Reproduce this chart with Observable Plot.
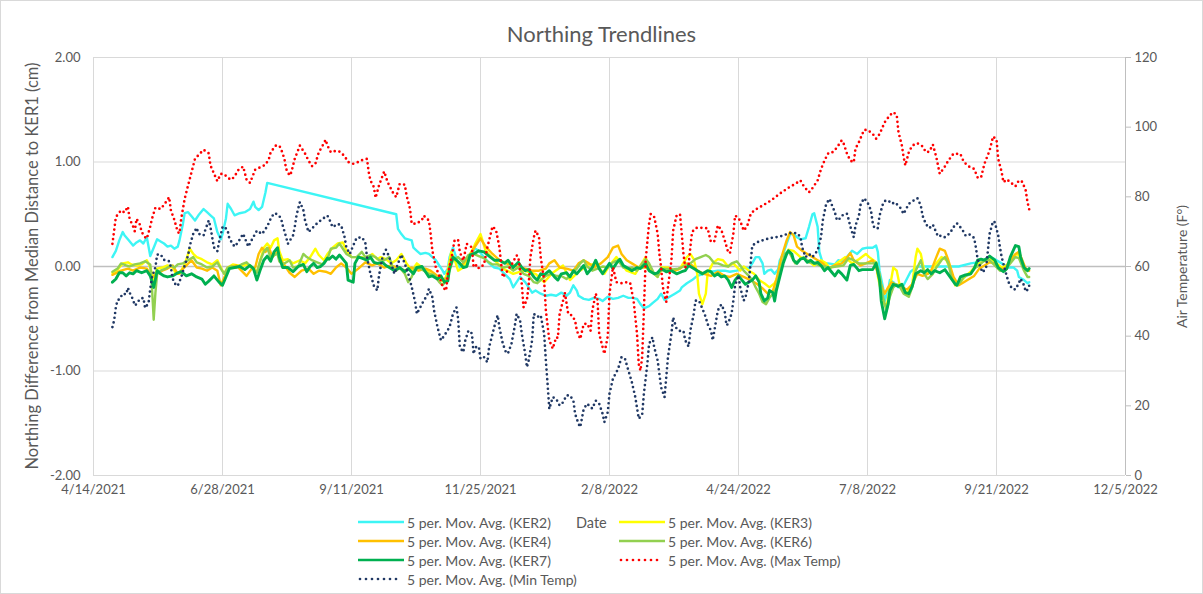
<!DOCTYPE html>
<html>
<head>
<meta charset="utf-8">
<script src="https://cdn.jsdelivr.net/npm/d3@7"></script>
<script src="https://cdn.jsdelivr.net/npm/@observablehq/plot@0.6"></script>
<style>
  html, body { margin:0; padding:0; background:#fff; }
  #chart { position:relative; width:1203px; height:594px; font-family: Lato, "Open Sans", sans-serif; color:#595959; overflow:hidden; }
  #frame { position:absolute; left:0; top:0; width:1201px; height:592px; border:1px solid #d9d9d9; pointer-events:none; }
  #title { position:absolute; top:20px; left:0; width:1203px; text-align:center; font-size:22px; }
  #plot { position:absolute; left:0; top:0; }
  .ytitle { position:absolute; white-space:nowrap; transform-origin: center center; }
  #legend { position:absolute; left:0; top:0; width:1203px; height:594px; pointer-events:none; font-size:14px; }
  .lg { position:absolute; display:flex; align-items:center; white-space:nowrap; height:16px; }
  .lg svg { margin-right:3px; }
</style>
</head>
<body>
<div id="chart">
  <div id="plot"></div>
  <div id="title">Northing Trendlines</div>
  <div class="ytitle" id="yl">Northing Difference from Median Distance to KER1 (cm)</div>
  <div class="ytitle" id="yr">Air Temperature (F°)</div>
  <div id="legend"></div>
  <div id="frame"></div>
</div>
<script>
// ---------- data (day = days since 4/14/2021) ----------
const xTickLabels = ["4/14/2021","6/28/2021","9/11/2021","11/25/2021","2/8/2022","4/24/2022","7/8/2022","9/21/2022","12/5/2022"];
const yTicksLeft = [-2, -1, 0, 1, 2];
const tempTicks = [0, 20, 40, 60, 80, 100, 120];

const KER2 = [[11,0.09],[13,0.15],[15,0.25],[17,0.33],[18,0.30],[20,0.26],[23,0.20],[25,0.23],[27,0.25],[29,0.22],[31,0.28],[33,0.10],[35,0.18],[37,0.26],[39,0.24],[41,0.22],[43,0.19],[45,0.20],[47,0.17],[49,0.19],[50,0.25],[52,0.41],[53,0.51],[55,0.52],[57,0.48],[59,0.44],[61,0.49],[64,0.55],[66,0.52],[68,0.49],[70,0.46],[72,0.33],[74,0.26],[75,0.31],[77,0.46],[78,0.60],[80,0.55],[82,0.49],[85,0.51],[88,0.52],[91,0.55],[93,0.62],[94,0.57],[96,0.54],[98,0.57],[100,0.71],[101,0.80],[176,0.50],[177,0.36],[179,0.31],[181,0.27],[185,0.25],[186,0.18],[188,0.15],[190,0.12],[193,0.13],[195,0.12],[197,0.09],[199,0.06],[201,0.01],[203,-0.04],[204,-0.07],[206,-0.02],[207,0.09],[209,0.18],[211,0.08],[213,-0.01],[216,0.03],[219,0.12],[222,0.17],[224,0.15],[227,0.09],[230,0.03],[233,-0.01],[236,-0.02],[239,-0.07],[242,-0.12],[244,-0.20],[246,-0.15],[248,-0.10],[251,-0.15],[253,-0.20],[255,-0.25],[257,-0.23],[260,-0.26],[263,-0.28],[266,-0.27],[269,-0.28],[272,-0.25],[275,-0.28],[277,-0.25],[279,-0.18],[281,-0.23],[282,-0.28],[285,-0.31],[288,-0.32],[291,-0.30],[294,-0.31],[296,-0.33],[299,-0.29],[302,-0.31],[305,-0.30],[308,-0.28],[311,-0.30],[313,-0.30],[316,-0.31],[318,-0.36],[320,-0.40],[323,-0.38],[325,-0.35],[328,-0.31],[330,-0.26],[332,-0.32],[335,-0.29],[338,-0.26],[341,-0.23],[342,-0.20],[345,-0.16],[348,-0.13],[351,-0.09],[355,-0.07],[359,-0.05],[363,-0.04],[367,-0.04],[370,-0.05],[374,-0.04],[378,-0.01],[381,-0.02],[383,0.03],[385,0.09],[387,0.09],[389,0.03],[390,-0.07],[392,-0.04],[394,-0.03],[396,-0.07],[398,-0.03],[399,0.06],[401,0.12],[403,0.22],[405,0.31],[407,0.31],[409,0.28],[411,0.26],[414,0.27],[416,0.38],[418,0.50],[419,0.51],[421,0.38],[422,0.14],[424,0.03],[427,0.03],[431,0.02],[433,0.06],[435,0.05],[438,0.09],[441,0.15],[444,0.12],[447,0.17],[450,0.18],[453,0.18],[455,0.20],[456,0.14],[457,-0.04],[459,-0.20],[460,-0.33],[462,-0.23],[463,-0.13],[465,-0.15],[468,-0.20],[471,-0.18],[475,-0.05],[479,0.0],[486,0.0],[494,0.0],[503,0.0],[510,0.03],[514,0.04],[518,0.06],[521,0.09],[524,0.07],[528,0.03],[532,-0.01],[535,-0.01],[537,-0.04],[538,-0.10],[541,-0.13],[543,-0.16],[544,-0.15]];

const KER3 = [[11,-0.06],[14,-0.03],[17,0.03],[20,0.04],[22,0.02],[25,0.01],[28,0.02],[31,0.06],[33,-0.01],[35,-0.13],[37,-0.02],[40,-0.01],[43,0.01],[46,-0.01],[48,-0.07],[50,-0.07],[53,0.02],[56,0.17],[58,0.12],[60,0.09],[63,0.07],[66,0.04],[69,0.02],[72,0.06],[74,-0.01],[76,-0.07],[78,-0.01],[81,0.02],[84,0.01],[87,0.01],[90,0.02],[93,-0.02],[95,-0.05],[97,0.06],[99,0.18],[101,0.22],[103,0.18],[105,0.25],[107,0.27],[108,0.15],[110,0.06],[113,0.07],[116,0.03],[120,0.06],[123,0.03],[126,0.09],[129,0.17],[131,0.11],[134,0.06],[136,0.12],[139,0.18],[142,0.22],[145,0.23],[147,0.15],[150,0.09],[153,0.09],[156,0.09],[159,0.06],[162,0.12],[165,0.07],[167,0.09],[170,0.07],[173,0.03],[176,0.06],[179,0.12],[182,0.03],[185,-0.04],[188,0.03],[191,-0.01],[194,-0.04],[196,-0.07],[199,-0.10],[202,-0.13],[204,-0.15],[206,-0.04],[208,0.14],[210,0.06],[212,-0.04],[215,-0.01],[218,0.09],[221,0.18],[222,0.22],[225,0.31],[228,0.15],[232,0.08],[238,-0.02],[244,-0.07],[250,-0.04],[257,-0.07],[262,-0.15],[267,-0.06],[273,0.01],[277,-0.13],[282,-0.05],[288,0.02],[292,0.02],[297,-0.07],[300,0.01],[304,0.09],[310,-0.04],[315,-0.07],[321,0.09],[324,-0.04],[328,-0.10],[330,-0.01],[334,-0.01],[338,-0.04],[341,-0.02],[345,0.09],[347,0.12],[349,0.07],[351,-0.07],[352,-0.26],[354,-0.36],[356,-0.26],[357,-0.07],[360,0.03],[363,0.07],[366,0.06],[369,0.00],[372,0.03],[376,-0.04],[378,0.00],[381,-0.04],[384,-0.07],[387,-0.13],[390,-0.16],[393,-0.20],[396,-0.16],[398,-0.09],[401,0.06],[404,0.16],[407,0.15],[411,0.09],[415,0.06],[419,0.01],[423,0.06],[426,0.03],[428,-0.02],[432,0.03],[437,0.09],[441,0.03],[445,0.07],[449,0.12],[451,0.09],[455,0.04],[456,-0.09],[459,-0.33],[461,-0.40],[463,-0.20],[465,-0.01],[467,-0.04],[469,-0.20],[471,-0.22],[473,-0.26],[476,-0.17],[478,0.09],[479,0.17],[481,0.12],[483,-0.04],[485,-0.07],[487,-0.04],[490,0.03],[493,0.09],[496,0.06],[499,-0.07],[501,-0.18],[504,-0.15],[507,-0.09],[510,-0.05],[512,-0.01],[515,0.03],[519,0.06],[522,0.07],[525,0.03],[528,-0.01],[531,0.01],[534,0.09],[537,0.12],[539,0.09],[541,-0.02],[543,-0.04]];

const KER4 = [[11,-0.08],[16,-0.04],[20,-0.02],[23,-0.04],[27,-0.01],[31,-0.02],[34,-0.10],[37,-0.07],[40,-0.04],[43,-0.02],[46,0.01],[49,-0.07],[51,-0.04],[54,0.01],[57,0.06],[60,-0.01],[63,-0.02],[66,-0.04],[69,-0.01],[72,-0.04],[74,-0.18],[77,-0.07],[79,-0.01],[83,0.01],[86,-0.04],[89,-0.09],[92,-0.02],[94,-0.01],[96,0.12],[98,0.18],[100,0.14],[102,0.18],[104,0.09],[107,0.14],[109,0.06],[112,-0.01],[114,-0.06],[117,-0.10],[121,-0.04],[125,-0.02],[128,-0.07],[131,-0.04],[135,-0.05],[138,-0.07],[141,-0.01],[144,0.03],[147,-0.01],[150,-0.07],[154,-0.02],[158,0.04],[162,0.01],[165,0.03],[169,-0.01],[173,0.01],[177,-0.01],[181,-0.04],[185,-0.01],[189,-0.04],[193,-0.02],[196,-0.04],[200,-0.09],[203,-0.13],[206,-0.10],[208,0.09],[211,0.06],[214,0.01],[218,0.09],[221,0.17],[223,0.22],[225,0.27],[228,0.19],[232,0.12],[236,0.06],[240,0.03],[244,0.01],[248,-0.01],[251,-0.02],[255,-0.04],[259,-0.04],[263,-0.02],[265,0.03],[268,0.06],[271,-0.01],[275,-0.02],[279,-0.04],[282,0.03],[285,0.06],[288,0.03],[291,-0.01],[295,0.03],[299,0.09],[302,0.18],[305,0.20],[307,0.12],[310,0.06],[313,0.03],[317,-0.01],[321,-0.01],[324,-0.04],[328,-0.09],[330,-0.04],[334,-0.02],[338,-0.04],[341,-0.02],[345,0.03],[348,0.01],[351,-0.04],[355,-0.07],[359,-0.09],[363,-0.05],[367,-0.09],[370,-0.10],[374,-0.07],[378,-0.10],[382,-0.13],[386,-0.17],[389,-0.21],[392,-0.26],[395,-0.23],[397,-0.13],[400,0.09],[403,0.25],[405,0.33],[407,0.30],[409,0.19],[412,0.15],[415,0.12],[418,0.09],[421,0.06],[424,0.03],[427,-0.02],[431,0.01],[435,0.03],[437,0.06],[440,0.13],[442,0.06],[446,0.01],[449,0.03],[453,0.06],[455,-0.01],[458,-0.18],[460,-0.26],[462,-0.20],[464,-0.15],[467,-0.18],[470,-0.20],[473,-0.22],[476,-0.17],[479,-0.07],[482,-0.09],[485,-0.07],[487,-0.04],[490,0.09],[492,0.17],[495,0.15],[497,0.06],[500,-0.10],[503,-0.18],[506,-0.15],[510,-0.11],[512,-0.09],[515,-0.02],[518,0.01],[521,0.04],[524,0.03],[527,-0.02],[530,-0.02],[533,0.06],[536,0.12],[538,0.14],[540,0.06],[542,-0.02],[544,-0.04]];

const KER6 = [[11,-0.05],[14,-0.02],[16,0.03],[19,0.01],[21,0.00],[24,0.02],[27,0.03],[30,0.05],[33,0.02],[34,-0.20],[35,-0.51],[36,-0.25],[37,-0.07],[39,-0.04],[42,-0.02],[45,0.01],[47,-0.01],[49,0.02],[52,0.03],[55,0.06],[58,0.09],[60,0.04],[63,0.02],[66,-0.01],[69,0.00],[72,0.04],[74,-0.02],[76,-0.07],[78,-0.01],[80,0.00],[83,-0.01],[86,0.02],[89,0.04],[92,-0.01],[95,-0.06],[97,0.06],[99,0.14],[101,0.18],[103,0.08],[105,0.11],[107,0.12],[108,0.05],[110,0.02],[114,0.06],[116,-0.01],[119,0.00],[122,0.12],[124,0.09],[127,0.06],[130,0.04],[133,0.02],[136,0.07],[138,0.17],[141,0.18],[143,0.22],[145,0.17],[147,0.12],[150,0.09],[153,0.09],[156,0.14],[158,0.09],[161,0.11],[164,0.09],[166,0.06],[169,0.06],[172,0.09],[174,-0.01],[176,-0.04],[178,-0.01],[181,-0.07],[183,-0.15],[185,-0.10],[187,-0.01],[190,-0.02],[193,-0.05],[195,-0.07],[198,-0.08],[201,-0.15],[203,-0.18],[205,-0.13],[207,-0.04],[209,0.06],[212,0.09],[215,0.04],[218,0.11],[221,0.12],[224,0.10],[227,0.08],[229,0.05],[232,0.02],[235,0.02],[238,-0.01],[241,0.00],[244,-0.04],[247,-0.01],[250,-0.07],[253,-0.09],[256,-0.15],[258,-0.16],[260,-0.13],[263,-0.09],[266,-0.07],[269,-0.09],[272,-0.09],[275,-0.12],[278,-0.07],[281,-0.02],[283,0.03],[285,0.06],[287,0.00],[290,-0.04],[293,-0.02],[296,0.00],[299,-0.01],[302,0.04],[305,0.06],[308,-0.01],[311,-0.02],[313,-0.01],[316,-0.04],[319,0.03],[321,0.07],[323,0.03],[326,-0.07],[328,-0.10],[329,-0.05],[332,-0.02],[336,-0.03],[340,-0.02],[343,0.00],[347,0.03],[350,0.07],[353,0.09],[356,0.11],[358,0.09],[361,0.03],[363,0.03],[366,0.01],[369,0.00],[371,0.03],[374,0.05],[376,0.01],[378,-0.04],[381,-0.09],[383,-0.13],[385,-0.20],[387,-0.26],[389,-0.34],[391,-0.36],[393,-0.30],[395,-0.26],[397,-0.21],[398,-0.12],[400,0.00],[402,0.12],[404,0.15],[406,0.09],[408,0.03],[410,0.06],[413,0.09],[416,0.04],[419,0.03],[422,0.01],[425,0.00],[428,-0.01],[432,0.00],[436,0.01],[439,0.08],[442,0.06],[445,0.03],[449,0.03],[453,0.03],[455,0.04],[457,-0.07],[459,-0.29],[461,-0.42],[463,-0.29],[465,-0.20],[467,-0.17],[469,-0.20],[471,-0.26],[474,-0.29],[476,-0.20],[478,-0.04],[481,0.06],[483,-0.07],[485,-0.12],[488,-0.07],[490,-0.01],[493,0.06],[495,0.09],[497,0.03],[499,-0.12],[502,-0.18],[504,-0.15],[506,-0.10],[510,-0.07],[512,-0.02],[515,0.01],[518,0.06],[521,0.06],[524,0.01],[527,-0.04],[530,-0.04],[533,0.03],[536,0.09],[538,0.08],[541,-0.04],[543,-0.10],[544,-0.10]];

const KER7 = [[11,-0.15],[13,-0.12],[15,-0.06],[17,-0.06],[19,-0.09],[21,-0.06],[23,-0.07],[25,-0.04],[28,-0.06],[31,-0.04],[33,-0.09],[35,-0.20],[37,-0.04],[39,-0.07],[41,-0.09],[43,-0.10],[46,-0.09],[49,-0.06],[51,-0.05],[54,-0.09],[57,-0.07],[60,-0.10],[63,-0.12],[65,-0.17],[67,-0.14],[70,-0.09],[73,-0.15],[75,-0.18],[77,-0.10],[79,-0.02],[82,-0.01],[85,0.00],[88,-0.03],[91,0.01],[93,-0.02],[95,-0.13],[97,-0.03],[99,0.06],[101,0.10],[103,0.05],[105,0.14],[107,0.18],[108,0.09],[110,-0.01],[113,-0.01],[116,-0.05],[119,0.00],[122,0.02],[124,-0.05],[126,0.00],[128,0.03],[130,-0.01],[132,0.00],[134,0.03],[136,0.08],[137,0.07],[139,0.10],[141,0.07],[143,0.11],[145,0.07],[147,0.03],[148,-0.13],[151,-0.15],[152,0.03],[154,0.09],[156,0.08],[159,0.06],[161,0.09],[163,0.04],[165,0.03],[168,0.04],[170,0.01],[173,-0.02],[175,-0.04],[178,-0.01],[181,-0.05],[183,-0.02],[186,-0.07],[188,-0.01],[191,0.00],[193,-0.05],[195,-0.10],[197,-0.09],[200,-0.12],[202,-0.09],[204,-0.15],[206,-0.14],[207,-0.02],[209,0.09],[211,0.06],[213,0.03],[215,-0.01],[217,0.00],[219,0.11],[222,0.13],[224,0.15],[227,0.14],[230,0.10],[233,0.06],[236,0.06],[239,0.03],[241,0.06],[244,-0.01],[247,0.04],[249,-0.01],[251,-0.04],[253,-0.03],[256,-0.10],[258,-0.13],[260,-0.07],[262,-0.08],[265,-0.04],[268,-0.10],[270,-0.13],[272,-0.07],[275,-0.06],[277,-0.10],[279,-0.04],[281,-0.07],[283,-0.03],[285,0.01],[287,-0.07],[290,-0.01],[292,0.06],[294,-0.02],[296,-0.07],[298,-0.02],[300,0.03],[302,-0.02],[304,0.03],[306,0.07],[308,0.01],[311,-0.02],[313,-0.04],[316,-0.01],[318,-0.02],[321,0.03],[323,-0.04],[326,-0.07],[328,-0.06],[330,-0.02],[333,-0.05],[336,-0.04],[339,-0.07],[342,-0.05],[344,-0.04],[346,0.01],[349,-0.02],[351,-0.04],[354,-0.07],[357,-0.04],[359,-0.05],[361,-0.09],[363,-0.07],[365,-0.10],[367,-0.09],[369,-0.13],[371,-0.20],[373,-0.13],[375,-0.09],[377,-0.13],[379,-0.17],[381,-0.15],[383,-0.13],[385,-0.09],[387,-0.15],[388,-0.26],[390,-0.33],[392,-0.30],[393,-0.23],[395,-0.25],[396,-0.33],[397,-0.23],[399,-0.10],[401,0.03],[403,0.12],[404,0.15],[406,0.12],[407,0.06],[409,0.03],[411,0.07],[413,0.08],[415,0.04],[417,0.06],[419,0.03],[421,0.04],[423,0.01],[425,-0.04],[427,-0.01],[429,-0.05],[431,-0.09],[433,-0.04],[435,-0.07],[438,-0.13],[440,0.01],[442,0.02],[445,-0.04],[447,-0.03],[450,-0.03],[453,-0.03],[455,0.03],[457,-0.13],[458,-0.33],[460,-0.50],[462,-0.36],[463,-0.23],[465,-0.17],[468,-0.19],[470,-0.17],[472,-0.25],[474,-0.26],[476,-0.19],[478,-0.07],[481,-0.04],[483,-0.06],[485,-0.03],[487,-0.07],[489,-0.04],[492,-0.06],[495,-0.03],[498,-0.10],[501,-0.17],[502,-0.18],[504,-0.10],[507,-0.08],[510,-0.07],[512,-0.02],[514,0.06],[516,0.07],[518,0.06],[521,0.10],[524,0.06],[526,-0.01],[529,-0.05],[531,-0.02],[533,0.09],[536,0.20],[538,0.19],[539,0.09],[541,-0.01],[543,-0.04],[544,-0.02]];

// temperatures in °F
const MAX_TEMP = [[11,66.5],[12,70.3],[13,74.2],[16,76.1],[18,75.5],[20,77.2],[21,73.7],[23,71.5],[24,70.1],[25,73.7],[27,72],[28,69.9],[30,68.4],[31,68],[33,71.5],[34,73.7],[36,76.9],[39,76.5],[41,77.7],[44,79.9],[45,76.1],[47,73.4],[49,69.9],[50,69.5],[51,73.7],[53,79.4],[55,83.3],[57,87.1],[59,90.9],[62,92.5],[64,93.5],[67,92.5],[68,89],[71,85.6],[72,84.5],[74,86.6],[76,86.5],[78,85.5],[80,84.9],[82,85.8],[84,87.6],[87,88.7],[89,84.9],[91,84],[94,87.8],[97,88.5],[100,89.2],[102,90.9],[103,92.8],[106,94.7],[108,94.7],[109,93.8],[111,90.9],[112,88],[114,86.1],[115,87],[117,90.9],[120,94.7],[123,92.4],[125,90.4],[127,88.8],[129,89.5],[131,92.8],[133,94.5],[135,96.4],[136,94.7],[138,92.8],[141,93.2],[143,93],[146,91.7],[148,90],[151,89.5],[154,90],[156,90.5],[159,90.9],[160,87.1],[161,84.7],[163,82.8],[164,79.7],[166,83.3],[169,87.3],[171,84.2],[174,81.3],[176,79.9],[178,83.7],[181,83.5],[182,80.4],[184,76.6],[185,72.3],[188,72.3],[191,73.4],[192,74.6],[195,73.2],[196,69.4],[197,64.6],[199,59.8],[201,57.4],[203,54.1],[205,53.1],[206,57.9],[208,62.2],[210,67.7],[212,67.5],[213,64.1],[215,61.7],[217,66.5],[220,65.5],[221,59.8],[223,60.5],[224,59.5],[227,60.5],[229,65.5],[232,71.5],[234,70.5],[236,65.5],[237,60.8],[238,56.9],[241,59],[243,60.5],[246,63.2],[247,62.7],[249,55],[250,48.3],[252,50.5],[253,54.5],[254,62.7],[256,68.4],[257,70.3],[259,68.5],[260,62.7],[262,56],[263,47.4],[265,38.8],[267,36.4],[269,39.7],[270,39.5],[271,46.4],[273,50.2],[274,52.6],[276,46.4],[278,46],[280,44.5],[281,41.6],[283,39.2],[285,43.5],[287,43.6],[289,41.6],[290,47.4],[292,52.2],[293,50.5],[294,40.7],[296,36.8],[297,34.9],[299,40],[300,52.2],[302,59.8],[304,55.5],[307,55.2],[310,55.5],[312,55.3],[314,50.2],[316,40.7],[317,32],[318,30.1],[319,34],[320,47.4],[321,61.7],[323,72.3],[324,75.1],[326,74.2],[328,69.4],[329,63.6],[330,59.8],[331,54.1],[333,49.8],[334,54.1],[336,61.7],[337,70.3],[339,74.6],[341,75],[342,69.4],[343,63.6],[344,59.8],[346,60.5],[347,65.5],[348,69.9],[350,71],[352,71.2],[355,71],[357,71],[359,67],[361,67.3],[363,71.8],[365,70.5],[367,67.5],[369,64.1],[370,63.8],[372,69.4],[373,74.6],[375,74],[377,71.8],[378,70.3],[380,71.5],[382,74.9],[384,76.1],[388,77.2],[394,79],[399,80.9],[404,82.6],[408,83.7],[411,84.7],[413,83],[416,81.3],[418,82.5],[421,84.7],[423,88],[425,90.4],[427,92.4],[429,92.5],[432,94],[435,96.2],[436,95.5],[438,92.5],[440,90.4],[442,89.9],[443,93.8],[445,95.7],[448,99.2],[450,99.2],[453,98.1],[455,96.7],[457,98],[460,101.4],[463,103.4],[465,104.3],[467,103.5],[468,98.6],[470,94.7],[471,91.4],[472,89],[474,92.8],[476,94.7],[479,95.4],[482,94.5],[484,92.8],[486,93],[488,95],[490,91.4],[492,86.6],[495,88.7],[497,90.4],[500,92.4],[504,92.3],[506,90],[509,88.7],[512,88],[514,85.6],[516,85.5],[518,89.5],[521,93.3],[523,97.3],[525,96.5],[526,90.9],[528,87.1],[529,84.2],[531,85],[533,84.2],[536,83],[538,84.7],[540,84.3],[542,81.8],[543,78.5],[544,76.4]];

const MIN_TEMP = [[11,42.6],[12,44.5],[13,48.3],[14,50.4],[15,50.5],[17,52.2],[19,52],[20,53.9],[21,52.5],[23,50.5],[24,48.8],[25,49.2],[27,50.7],[29,51],[30,48.1],[32,49.5],[33,53.6],[34,56.9],[36,59.8],[37,63.4],[39,63.5],[41,61.9],[44,61.5],[45,59.8],[46,56.5],[48,54.5],[49,54.5],[51,56.9],[53,60.3],[55,63.2],[56,66],[58,69.4],[60,71.1],[61,69.4],[64,68.9],[65,70.5],[67,73.2],[68,71.3],[70,65.5],[72,64.4],[73,67],[75,71.3],[76,71.5],[78,70.3],[79,68],[82,65.7],[84,66.9],[87,69.4],[90,65.7],[92,67.6],[95,70.3],[98,69.3],[101,71.5],[103,73.7],[105,75.3],[107,75],[109,73.9],[110,71.8],[112,68.4],[113,66.5],[116,68.9],[117,71.3],[118,74.6],[119,76.6],[120,78.5],[122,76.2],[123,73.2],[125,69.9],[127,70.9],[130,72.4],[133,73.6],[136,74.6],[137,73.7],[139,71.3],[142,72.2],[144,71.8],[146,68.4],[147,65.5],[149,63.6],[151,66],[153,68.2],[156,68.4],[158,67],[159,62.7],[161,57.9],[163,54.5],[165,53.1],[166,57.4],[168,62.7],[170,64.8],[172,62.7],[173,60.8],[175,57.9],[177,60.8],[179,63.4],[181,60.8],[183,57.9],[185,54.1],[187,49.8],[188,46.4],[190,48.3],[192,50.2],[194,51.7],[195,53.6],[197,51.2],[198,47.4],[200,42.6],[202,38.8],[204,40.2],[207,42.6],[209,46.4],[211,48.3],[212,45],[213,36.8],[215,35.4],[216,38.5],[218,41.6],[220,40.8],[221,34.9],[222,36.8],[224,37],[225,33.5],[227,34],[229,32.5],[230,36.8],[232,40.7],[234,44.5],[235,46],[236,42.5],[238,37.8],[240,35.1],[241,35.1],[243,37.8],[245,43.1],[246,46.4],[248,44.5],[249,40.7],[251,34.9],[252,31.1],[253,33],[255,38.8],[256,46.4],[258,45.5],[260,46],[262,40.7],[263,33],[264,26.3],[265,19.1],[267,22.5],[269,22],[271,20.1],[273,21],[275,23],[277,23],[279,21.5],[280,17.7],[282,14.8],[283,13.9],[285,19.1],[287,20.6],[290,19.2],[292,21.5],[294,20.6],[296,17.7],[297,15.3],[299,18.2],[300,23.5],[302,27.8],[305,30.6],[307,34],[309,33.5],[311,30.1],[313,26.8],[315,22.5],[317,16.3],[319,17.5],[320,23.5],[322,32],[323,37.8],[325,39.7],[326,36.8],[328,33],[329,29.2],[330,25.3],[332,22.5],[333,28.2],[334,34],[336,40.7],[337,45.4],[339,42.1],[341,41.5],[343,41.5],[344,38.8],[346,37],[347,41.6],[349,46.4],[350,50.2],[352,50.2],[354,47.9],[356,45.4],[357,43.5],[359,41.6],[360,38.8],[362,44.5],[363,47.4],[365,49.1],[367,47],[368,43.1],[369,43.6],[371,46.5],[372,50.2],[373,54.5],[375,57.4],[376,54],[378,50.2],[379,51],[381,55.6],[382,60.8],[383,66],[386,67],[390,67.7],[394,68.2],[399,68.6],[405,69.6],[409,69.6],[411,68.5],[412,65.5],[414,62.7],[416,63.6],[418,62.7],[421,64.6],[423,68.5],[424,73.2],[426,78],[428,79.4],[429,78],[431,75.6],[432,73.7],[433,73.2],[435,74.6],[438,75.2],[439,73.6],[440,71.5],[441,69.9],[442,68.4],[443,71.7],[445,74.6],[446,77.8],[448,79.6],[450,78.4],[452,76.1],[453,72.7],[454,71],[456,71],[457,74.6],[459,78],[460,78.8],[462,79],[464,78],[466,78.4],[469,76.9],[471,75.1],[474,78],[477,79],[479,79.6],[481,77.5],[482,74.6],[484,72.1],[486,71],[488,72],[491,68.6],[493,68.9],[495,68.4],[498,69.6],[500,71.3],[502,72.4],[505,70.7],[507,68.9],[509,69.3],[512,68.2],[513,65.5],[514,62.2],[516,59.3],[517,58.3],[519,59.8],[520,64.6],[521,69.4],[523,73],[524,72.7],[526,68.9],[527,65.5],[528,62.7],[530,58.9],[532,55.5],[534,53.6],[536,53.4],[538,55.2],[539,56.5],[541,54.6],[542,52.8],[543,53.3],[544,54.5]];

// ---------- build ----------
const parseTick = d3.utcParse("%m/%d/%Y");
const xTicks = xTickLabels.map(s => parseTick(s));
const start = xTicks[0];
const toDate = d => d3.utcDay.offset(start, d);
const fmtTick = d3.utcFormat("%-m/%-d/%Y");
const tempToY = t => (t - 60) / 30;   // map right axis (0..120 °F) onto left axis (-2..2)

const cm = (arr) => arr.slice().sort((a,b)=>a[0]-b[0]).map(([d,v]) => ({date: toDate(d), v}));
const tp = (arr) => arr.slice().sort((a,b)=>a[0]-b[0]).map(([d,t]) => ({date: toDate(d), v: tempToY(t)}));

const series = [
  {name:"5 per. Mov. Avg. (KER2)", data: cm(KER2), color:"#3DF5F5", width:2.4, dotted:false},
  {name:"5 per. Mov. Avg. (KER3)", data: cm(KER3), color:"#FFFF00", width:2.4, dotted:false},
  {name:"5 per. Mov. Avg. (KER4)", data: cm(KER4), color:"#FFC000", width:2.4, dotted:false},
  {name:"5 per. Mov. Avg. (KER6)", data: cm(KER6), color:"#92D050", width:2.4, dotted:false},
  {name:"5 per. Mov. Avg. (KER7)", data: cm(KER7), color:"#00B050", width:2.9, dotted:false},
  {name:"5 per. Mov. Avg. (Max Temp)", data: tp(MAX_TEMP), color:"#FF0000", width:2.7, dotted:true},
  {name:"5 per. Mov. Avg. (Min Temp)", data: tp(MIN_TEMP), color:"#203864", width:2.7, dotted:true}
];

const lineMarks = series.map(s => Plot.line(s.data, {
  x: "date", y: "v", stroke: s.color, strokeWidth: s.width,
  strokeLinecap: "round", strokeLinejoin: "round",
  strokeDasharray: s.dotted ? "0 4.8" : null
}));

const chart = Plot.plot({
  width: 1203, height: 500,
  marginLeft: 93, marginRight: 78, marginTop: 57, marginBottom: 25,
  x: {type: "utc", domain: [xTicks[0], xTicks[xTicks.length-1]]},
  y: {domain: [-2, 2]},
  style: {fontFamily: "Lato, 'Open Sans', sans-serif", fontSize: "13px", color: "#595959", background: "transparent", overflow: "visible"},
  marks: [
    Plot.gridX(xTicks, {stroke: "#d9d9d9", strokeOpacity: 1, strokeWidth: 1}),
    Plot.gridY(yTicksLeft, {stroke: "#d9d9d9", strokeOpacity: 1, strokeWidth: 1}),
    Plot.ruleY([0], {stroke: "#bfbfbf", strokeWidth: 1.3}),
    Plot.ruleX([xTicks[xTicks.length-1]], {stroke: "#bfbfbf", strokeWidth: 1}),
    Plot.axisX(xTicks, {tickSize: 0, tickPadding: 9, tickFormat: fmtTick, label: null, fill: "#595959"}),
    Plot.axisY(yTicksLeft, {anchor: "left", tickSize: 0, tickPadding: 13, tickFormat: v => v.toFixed(2), label: null, fill: "#595959"}),
    Plot.axisY(tempTicks.map(tempToY), {anchor: "right", tickSize: 5, tickPadding: 4, stroke: "#bfbfbf",
      tickFormat: v => String(Math.round(v * 30 + 60)), label: null, fill: "#595959"}),
    ...lineMarks
  ]
});
document.getElementById("plot").appendChild(chart);

// axis titles
function placeRot(id, cx, cy, size) {
  const el = document.getElementById(id);
  el.style.fontSize = size + "px";
  const w = el.offsetWidth, h = el.offsetHeight;
  el.style.left = (cx - w/2) + "px";
  el.style.top = (cy - h/2) + "px";
  el.style.transform = "rotate(-90deg)";
}
placeRot("yl", 31, 266, 16.5);
placeRot("yr", 1181, 266, 14);

// legend
const legend = document.getElementById("legend");
function sample(s) {
  const ns = "http://www.w3.org/2000/svg";
  const svg = document.createElementNS(ns, "svg");
  svg.setAttribute("width", 46); svg.setAttribute("height", 10);
  const l = document.createElementNS(ns, "line");
  l.setAttribute("x1", s.dotted ? 2 : 0); l.setAttribute("x2", s.dotted ? 44 : 46);
  l.setAttribute("y1", 5); l.setAttribute("y2", 5);
  l.setAttribute("stroke", s.color); l.setAttribute("stroke-width", s.dotted ? 2.7 : 2.6);
  l.setAttribute("stroke-linecap", "round");
  if (s.dotted) l.setAttribute("stroke-dasharray", "0 6");
  svg.appendChild(l);
  return svg;
}
const legendPos = [[358,522],[619,522],[358,541],[619,541],[358,560],[619,560],[358,579]];
series.forEach((s, k) => {
  const [lx, ly] = legendPos[k];
  const item = document.createElement("div");
  item.className = "lg";
  item.style.left = lx + "px";
  item.style.top = (ly - 8) + "px";
  item.appendChild(sample(s));
  const t = document.createElement("span"); t.textContent = s.name;
  item.appendChild(t);
  legend.appendChild(item);
});
const dateLbl = document.createElement("div");
dateLbl.className = "lg"; dateLbl.style.left = "576px"; dateLbl.style.top = "514px";
dateLbl.style.fontSize = "14.5px";
dateLbl.textContent = "Date";
legend.appendChild(dateLbl);
</script>
</body>
</html>
